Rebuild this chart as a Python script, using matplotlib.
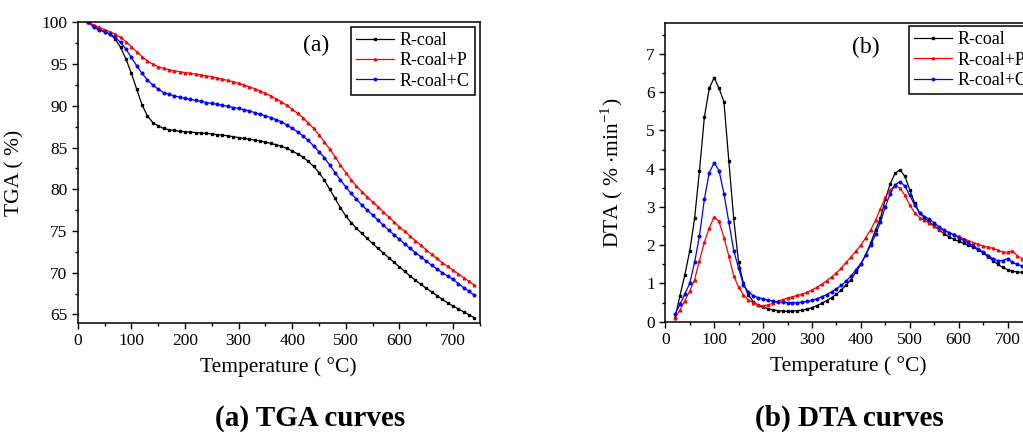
import numpy as np
import matplotlib
matplotlib.use("Agg")
import matplotlib.pyplot as plt

plt.rcParams['font.family'] = ['Liberation Serif', 'DejaVu Serif']
plt.rcParams['mathtext.fontset'] = 'stix'

# temperature grid (°C), same for all series
temp = list(range(20, 741, 10))

# TGA (%)
tga_coal = [100, 99.6, 99.2, 98.9, 98.6, 98.0, 97.0, 95.6, 93.9, 92.0,
            90.1, 88.8, 88.0, 87.6, 87.3, 87.15, 87.05, 86.95, 86.9, 86.85,
            86.8, 86.75, 86.7, 86.65, 86.55, 86.5, 86.4, 86.3, 86.2, 86.1,
            86.0, 85.9, 85.8, 85.65, 85.5, 85.35, 85.15, 84.9, 84.6, 84.25,
            83.85, 83.35, 82.75, 82.0, 81.1, 80.0, 78.9, 77.8, 76.8, 76.0,
            75.3, 74.7, 74.1, 73.5, 72.9, 72.35, 71.8, 71.25, 70.7, 70.15,
            69.6, 69.1, 68.6, 68.15, 67.7, 67.25, 66.8, 66.4, 66.0, 65.65,
            65.3, 64.95, 64.6]
tga_p = [100, 99.7, 99.4, 99.15, 98.9, 98.6, 98.2, 97.7, 97.1, 96.5,
         95.9, 95.4, 95.0, 94.7, 94.5, 94.35, 94.2, 94.1, 94.0, 93.9,
         93.8, 93.7, 93.6, 93.5, 93.35, 93.2, 93.05, 92.9, 92.7, 92.5,
         92.3, 92.05, 91.8, 91.5, 91.2, 90.85, 90.5, 90.05, 89.6, 89.1,
         88.6, 87.95, 87.3, 86.5, 85.7, 84.8, 83.9, 82.9, 82.0, 81.15,
         80.4, 79.7, 79.1, 78.5, 77.9, 77.3, 76.7, 76.1, 75.5, 74.95,
         74.4, 73.85, 73.3, 72.75, 72.2, 71.7, 71.2, 70.75, 70.3, 69.85,
         69.4, 68.95, 68.5]
tga_c = [100, 99.4, 99.1, 98.9, 98.6, 98.2, 97.6, 96.8, 95.8, 94.8,
         93.9, 93.1, 92.5, 92.0, 91.6, 91.4, 91.2, 91.05, 90.9, 90.8,
         90.65, 90.55, 90.4, 90.3, 90.2, 90.05, 89.95, 89.8, 89.7, 89.55,
         89.4, 89.2, 89.0, 88.8, 88.6, 88.35, 88.1, 87.7, 87.3, 86.9,
         86.4, 85.85, 85.2, 84.5, 83.8, 82.9, 82.0, 81.1, 80.3, 79.5,
         78.8, 78.1, 77.5, 76.9, 76.3, 75.7, 75.1, 74.55, 74.0, 73.45,
         72.9, 72.4, 71.9, 71.4, 70.9, 70.45, 70.0, 69.6, 69.2, 68.7,
         68.2, 67.75, 67.3]

# DTA (%/min)
dta_coal = [0.1, 0.68, 1.22, 1.85, 2.7, 3.95, 5.35, 6.1, 6.38, 6.1,
            5.75, 4.2, 2.7, 1.55, 1.0, 0.7, 0.52, 0.43, 0.38, 0.34,
            0.31, 0.29, 0.28, 0.27, 0.28, 0.29, 0.3, 0.33, 0.37, 0.42,
            0.48, 0.55, 0.63, 0.72, 0.83, 0.96, 1.1, 1.3, 1.5, 1.75,
            2.05, 2.4, 2.7, 3.2, 3.6, 3.88, 3.97, 3.8, 3.45, 3.1,
            2.85, 2.72, 2.6, 2.5, 2.4, 2.3, 2.22, 2.16, 2.1, 2.05,
            2.0, 1.95, 1.88, 1.8, 1.7, 1.6, 1.5, 1.42, 1.36, 1.32,
            1.3, 1.29, 1.28]
dta_p = [0.1, 0.3, 0.55, 0.8, 1.1, 1.6, 2.08, 2.45, 2.74, 2.62,
         2.2, 1.72, 1.2, 0.9, 0.7, 0.57, 0.5, 0.43, 0.42, 0.44,
         0.48, 0.54, 0.58, 0.62, 0.65, 0.69, 0.72, 0.77, 0.83, 0.9,
         0.98, 1.07, 1.17, 1.28, 1.4, 1.55, 1.7, 1.85, 2.0, 2.2,
         2.4, 2.65, 2.95, 3.25, 3.45, 3.55, 3.5, 3.3, 3.05, 2.85,
         2.72, 2.65, 2.57, 2.5, 2.43, 2.38, 2.33, 2.28, 2.23, 2.17,
         2.12, 2.07, 2.02, 1.98, 1.95, 1.92, 1.87, 1.82, 1.82, 1.85,
         1.72, 1.65, 1.6]
dta_c = [0.2, 0.45, 0.72, 1.0, 1.55, 2.25, 3.2, 3.9, 4.15, 3.95,
         3.35, 2.6, 1.86, 1.4, 0.95, 0.78, 0.68, 0.63, 0.6, 0.56,
         0.54, 0.52, 0.51, 0.5, 0.5, 0.5, 0.51, 0.53, 0.56, 0.6,
         0.65, 0.71, 0.78, 0.86, 0.95, 1.06, 1.2, 1.36, 1.52, 1.75,
         2.0, 2.28, 2.6, 3.0, 3.35, 3.58, 3.66, 3.55, 3.3, 3.05,
         2.85, 2.75, 2.68, 2.58, 2.48, 2.4, 2.33, 2.27, 2.2, 2.13,
         2.06, 1.98, 1.9, 1.82, 1.73, 1.65, 1.6, 1.6, 1.65, 1.55,
         1.5, 1.46, 1.43]

labels = ['R-coal', 'R-coal+P', 'R-coal+C']
colors = ['black', 'red', 'blue']
markers = ['s', '^', 'o']


def style_axes(ax):
    for s in ax.spines.values():
        s.set_linewidth(1.1)
    ax.tick_params(which='both', direction='out', top=False, right=False,
                   labelsize=12.5, width=1)
    ax.tick_params(which='major', length=4)
    ax.tick_params(which='minor', length=2.5)


def add_legend(ax, loc, anchor):
    leg = ax.legend(loc=loc, bbox_to_anchor=anchor, borderaxespad=0,
                    fontsize=13, fancybox=False, edgecolor='black',
                    framealpha=1, handlelength=2.1, labelspacing=0.18,
                    borderpad=0.3, handletextpad=0.3, markerscale=0.9)
    leg.get_frame().set_linewidth(1.1)
    return leg


fig = plt.figure(figsize=(10.23, 4.32), dpi=100)

# (a) TGA
ax1 = fig.add_axes([0.076, 0.253, 0.393, 0.695])
for y, lab, c, m in zip([tga_coal, tga_p, tga_c], labels, colors, markers):
    ax1.plot(temp, y, color=c, marker=m, ms=1.9, lw=0.9, label=lab)
ax1.set_xlim(0, 750)
ax1.set_ylim(64, 100)
ax1.set_xticks(np.arange(0, 701, 100))
ax1.set_xticks(np.arange(0, 751, 50), minor=True)
ax1.set_yticks(np.arange(65, 101, 5))
ax1.set_yticks(np.arange(65, 100.1, 2.5), minor=True)
style_axes(ax1)
ax1.set_xlabel('Temperature ( °C)', fontsize=15.5, labelpad=6)
ax1.set_ylabel('TGA ( %)', fontsize=15.5)
ax1.yaxis.set_label_coords(-0.133, 0.5)
ax1.text(0.592, 0.922, '(a)', transform=ax1.transAxes, fontsize=17,
         ha='center', va='center')
add_legend(ax1, 'upper right', (0.988, 0.986))

# (b) DTA
ax2 = fig.add_axes([0.6503, 0.2553, 0.3585, 0.6907])
for y, lab, c, m in zip([dta_coal, dta_p, dta_c], labels, colors, markers):
    ax2.plot(temp, y, color=c, marker=m, ms=1.9, lw=0.9, label=lab)
ax2.set_xlim(0, 750)
ax2.set_ylim(0, 7.8)
ax2.set_xticks(np.arange(0, 701, 100))
ax2.set_xticks(np.arange(0, 751, 50), minor=True)
ax2.set_yticks(np.arange(0, 8, 1))
ax2.set_yticks(np.arange(0, 7.6, 0.5), minor=True)
style_axes(ax2)
ax2.set_xlabel('Temperature ( °C)', fontsize=15.5, labelpad=6)
ax2.set_ylabel(r'DTA ( % $\cdot$min$^{\mathregular{-1}}$)', fontsize=15.5)
ax2.yaxis.set_label_coords(-0.11, 0.5)
ax2.text(0.546, 0.92, '(b)', transform=ax2.transAxes, fontsize=17,
         ha='center', va='center')
add_legend(ax2, 'upper left', (0.664, 0.991))

# captions
fig.text(0.303, 0.032, '(a) TGA curves', fontsize=21, fontweight='bold',
         ha='center', va='center')
fig.text(0.83, 0.032, '(b) DTA curves', fontsize=21, fontweight='bold',
         ha='center', va='center')

fig.savefig('out.png', dpi=100)
